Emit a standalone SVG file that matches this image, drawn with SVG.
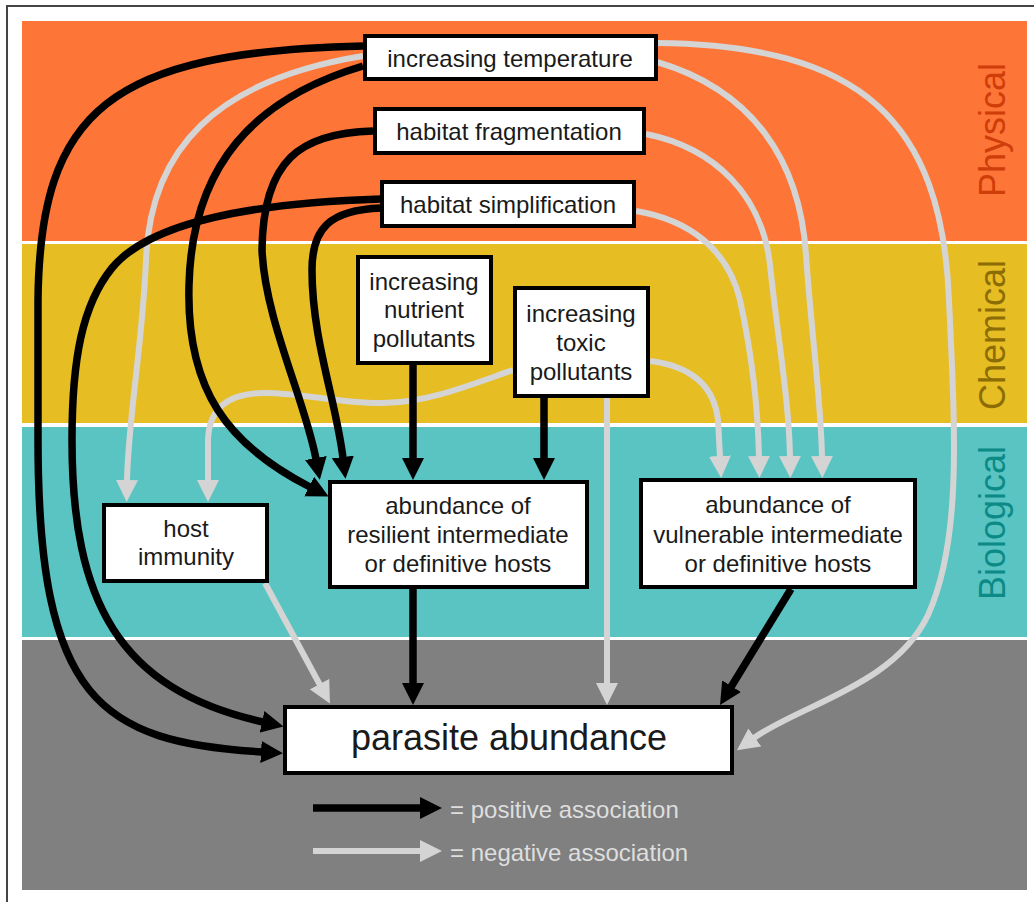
<svg xmlns="http://www.w3.org/2000/svg" width="1034" height="902" viewBox="0 0 1034 902">
<style>
.box{fill:#fff;stroke:#000;stroke-width:4}
.t{font-family:"Liberation Sans",Arial,sans-serif;font-size:24px;fill:#1a1a1a;text-anchor:middle}
.big{font-size:36px}
.side{font-family:"Liberation Sans",Arial,sans-serif;font-size:36px;text-anchor:middle}
.pos{fill:none;stroke:#000;stroke-width:7.5}
.neg{fill:none;stroke:#d4d4d4;stroke-width:6}
.leg{font-family:"Liberation Sans",Arial,sans-serif;font-size:24px;fill:#dedede}
</style>
<defs>
<marker id="ab" markerUnits="userSpaceOnUse" markerWidth="22" markerHeight="22" viewBox="0 0 22 22" refX="1" refY="11" orient="auto"><path d="M0,0 L22,11 L0,22 z" fill="#000"/></marker>
<marker id="ag" markerUnits="userSpaceOnUse" markerWidth="22" markerHeight="22" viewBox="0 0 22 22" refX="1" refY="11" orient="auto"><path d="M0,0 L22,11 L0,22 z" fill="#d4d4d4"/></marker>
</defs>
<rect width="1034" height="902" fill="#fff"/>
<rect x="7" y="6" width="1040" height="920" fill="#fff" stroke="#444" stroke-width="2"/>
<g id="bands">
<rect x="22" y="21" width="1005" height="220" fill="#fe7538"/>
<rect x="22" y="244" width="1005" height="179" fill="#e6bd22"/>
<rect x="22" y="427" width="1005" height="210" fill="#5ac4c3"/>
<rect x="22" y="640" width="1005" height="250" fill="#808080"/>
<text class="side" fill="#cf3d08" transform="translate(1005,130) rotate(-90)">Physical</text>
<text class="side" fill="#8c6c05" transform="translate(1005,335) rotate(-90)">Chemical</text>
<text class="side" fill="#0b8a86" transform="translate(1005,523) rotate(-90)">Biological</text>
</g>
<g id="connectors">
<path class="neg" marker-end="url(#ag)" d="M363 56 C215 80 150 150 146 260 C143 340 128 420 127 481"/>
<path class="neg" marker-end="url(#ag)" d="M657 43 C860 45 942 120 949 300 C955 430 962 540 928 615 C895 685 800 705 754 738"/>
<path class="neg" marker-end="url(#ag)" d="M657 62 C752 90 800 160 806 255 C812 340 821 400 822 457"/>
<path class="neg" marker-end="url(#ag)" d="M646 134 C715 148 762 195 770 265 C778 340 789 400 790 457"/>
<path class="neg" marker-end="url(#ag)" d="M636 211 C690 220 728 250 740 300 C752 355 758 410 759 457"/>
<path class="neg" marker-end="url(#ag)" d="M650 361 C690 366 714 385 718 420 L720 457"/>
<path class="neg" marker-end="url(#ag)" d="M513 370 C470 385 430 402 383 403 C340 404 300 392 262 393 C226 394 209 410 208 440 L208 481"/>
<path class="neg" marker-end="url(#ag)" d="M607 398 L607 684"/>
<path class="neg" marker-end="url(#ag)" d="M265 583 L320 685"/>
<path class="pos" marker-end="url(#ab)" d="M363 46 C110 52 40 110 38 300 L38 440 C38 700 100 742 262 752"/>
<path class="pos" marker-end="url(#ab)" d="M363 66 C255 98 192 165 189 285 C186 390 228 445 310 487"/>
<path class="pos" marker-end="url(#ab)" d="M373 131 C300 133 263 160 262 250 C265 320 305 400 316 459"/>
<path class="pos" marker-end="url(#ab)" d="M381 208 C330 210 312 228 312 270 C312 340 336 400 343 458"/>
<path class="pos" marker-end="url(#ab)" d="M381 199 C250 203 150 222 112 268 C82 305 72 360 72 440 C72 600 118 690 263 722"/>
<path class="pos" marker-end="url(#ab)" d="M544 398 L544 459"/>
<path class="pos" marker-end="url(#ab)" d="M413 365 L413 459"/>
<path class="pos" marker-end="url(#ab)" d="M413 589 L413 684"/>
<path class="pos" marker-end="url(#ab)" d="M791 589 L731 687"/>
</g>
<g id="temperature"><rect class="box" x="365" y="36" width="291" height="43"/><text class="t" x="510" y="67">increasing temperature</text></g>
<g id="fragmentation"><rect class="box" x="375" y="109" width="269" height="44"/><text class="t" x="509" y="140">habitat fragmentation</text></g>
<g id="simplification"><rect class="box" x="382" y="182" width="252" height="44"/><text class="t" x="508" y="213">habitat simplification</text></g>
<g id="nutrient"><rect class="box" x="358" y="257" width="133" height="106"/><text class="t" x="424" y="290">increasing</text><text class="t" x="424" y="318">nutrient</text><text class="t" x="424" y="347">pollutants</text></g>
<g id="toxic"><rect class="box" x="515" y="288" width="133" height="108"/><text class="t" x="581" y="322">increasing</text><text class="t" x="581" y="351">toxic</text><text class="t" x="581" y="380">pollutants</text></g>
<g id="host"><rect class="box" x="104" y="505" width="163" height="76"/><text class="t" x="186" y="537">host</text><text class="t" x="186" y="565">immunity</text></g>
<g id="resilient"><rect class="box" x="330" y="482" width="257" height="105"/><text class="t" x="458" y="514">abundance of</text><text class="t" x="458" y="543">resilient intermediate</text><text class="t" x="458" y="572">or definitive hosts</text></g>
<g id="vulnerable"><rect class="box" x="641" y="480" width="274" height="107"/><text class="t" x="778" y="513">abundance of</text><text class="t" x="778" y="543">vulnerable intermediate</text><text class="t" x="778" y="572">or definitive hosts</text></g>
<g id="parasite"><rect class="box" x="285" y="707" width="447" height="66"/><text class="t big" x="509" y="750">parasite abundance</text></g>
<g id="legend">
<path class="pos" marker-end="url(#ab)" d="M313 808 L421 808"/>
<path class="neg" marker-end="url(#ag)" d="M313 851 L421 851"/>
<text class="leg" x="450" y="818">= positive association</text>
<text class="leg" x="450" y="861">= negative association</text>
</g>
</svg>
